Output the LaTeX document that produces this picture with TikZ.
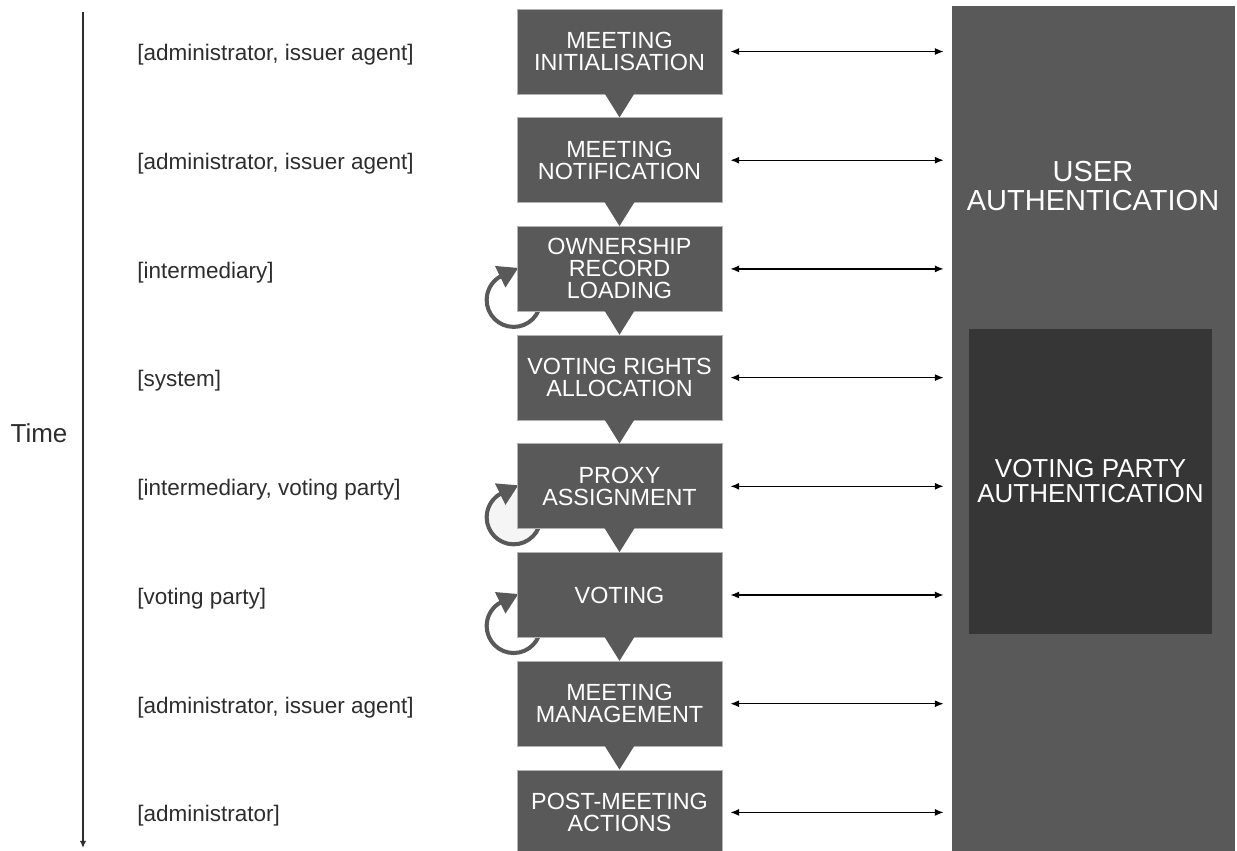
\documentclass[tikz,border=0pt]{standalone}
\usepackage{fontspec}
\setmainfont{Liberation Sans}
\usetikzlibrary{arrows.meta,calc,backgrounds}
\definecolor{slate}{RGB}{89,89,89}
\definecolor{coal}{RGB}{54,54,54}
\definecolor{ink}{RGB}{45,45,45}
\definecolor{mist}{RGB}{245,245,245}
\tikzset{
  >={Latex[length=5pt,width=4pt]},
  stage/.style={fill=slate,draw=black!30,line width=0.4pt,text=white,inner sep=0pt,
    minimum width=4.1cm,minimum height=1.7cm,align=center,
    font=\fontsize{13.3}{12.5}\selectfont},
  role/.style={anchor=west,inner sep=0pt,text=ink,font=\fontsize{12.8}{15}\selectfont},
  authbox/.style={fill=#1,inner sep=0pt,text=white,align=center},
  authbox/.default=slate,
  link/.style={<->,line width=0.8pt,draw=black,shorten <=0.16cm,shorten >=0.16cm},
  selfloop/.style={draw=slate,line width=2.3pt,-{Triangle[length=11.5pt,width=13pt]}},
}

\begin{document}
\begin{tikzpicture}[x=0.02cm,y=0.02cm]
  \useasboundingbox (0,0) rectangle (1237,-850);
  % authentication side
  \node[authbox,minimum width=5.66cm,minimum height=16.98cm] (ua) at (1093.5,-430.5) {};
  \node[text=white,align=center,font=\fontsize{16.5}{17}\selectfont] (uatxt) at (1093,-186) {USER\\AUTHENTICATION};
  \node[authbox=coal,minimum width=4.86cm,minimum height=6.1cm,font=\fontsize{14.8}{14.2}\selectfont]
    (vpa) at (1090.5,-481.5) {VOTING PARTY\\AUTHENTICATION};
  % time axis
  \coordinate (tstart) at (83,-12);
  \coordinate (tend) at (83,-848);
  \draw[ink,line width=1.1pt,-{Latex[length=4pt,width=3.5pt]}] (tstart) -- (tend);
  \node[text=ink,font=\fontsize{14.8}{16}\selectfont] (time) at (39,-433) {Time};
  % stages
  \foreach \i/\txt/\who in {
      1/{MEETING\\INITIALISATION}/{[administrator, issuer agent]},
      2/{MEETING\\NOTIFICATION}/{[administrator, issuer agent]},
      3/{OWNERSHIP\\RECORD\\LOADING}/{[intermediary]},
      4/{VOTING RIGHTS\\ALLOCATION}/{[system]},
      5/{PROXY\\ASSIGNMENT}/{[intermediary, voting party]},
      6/{VOTING}/{[voting party]},
      7/{MEETING\\MANAGEMENT}/{[administrator, issuer agent]},
      8/{POST-MEETING\\ACTIONS}/{[administrator]}} {
    \node[stage] (s\i) at (619.5,{-51.5-108.7*(\i-1)}) {\txt};
    \node[role] (r\i) at (137,{-55-108.7*(\i-1)}) {\who};
    \draw[link] (s\i.east) -- (s\i.east -| ua.west);
  }
  \foreach \i [evaluate=\i as \j using int(\i+1)] in {1,...,7}
    \fill[slate] ($(s\i.south)+(-15,1)$) -- ($(s\i.south)+(15,1)$) -- (s\j.north) -- cycle;
  % repeat loops
  \begin{scope}[on background layer]
    \fill[mist] ($(s5.west)+(-3,-31)$) circle (27);
    \foreach \i in {3,5,6}
      \draw[selfloop] ($(s\i.west)+(24,-31)$) arc[start angle=0,end angle=-236,radius=27] -- ++(26:22);
  \end{scope}
\end{tikzpicture}
\end{document}
